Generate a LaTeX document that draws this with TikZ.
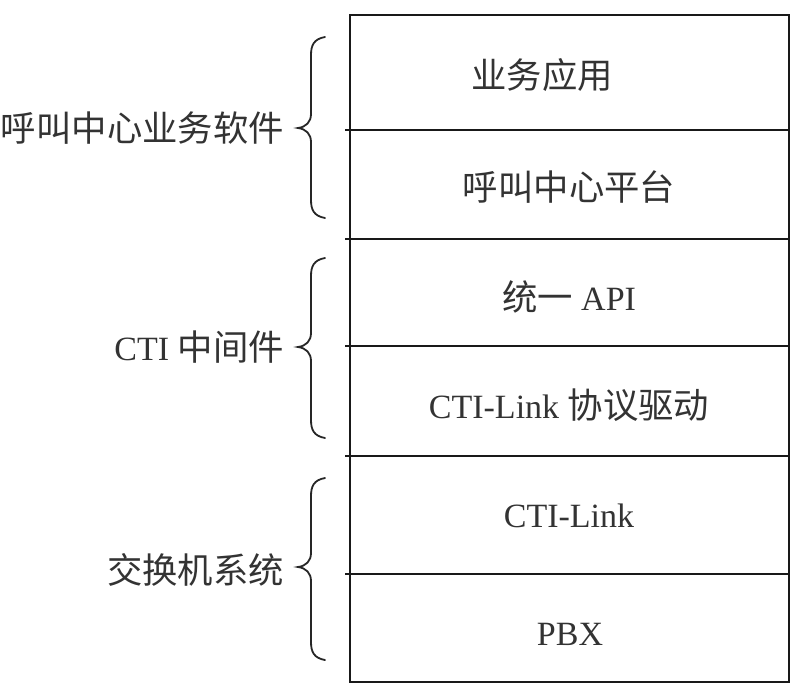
\documentclass[tikz,border=0pt]{standalone}
\usepackage{fontspec}
\setmainfont{Liberation Serif}
\newfontfamily\cjk[Scale=1.04]{Noto Sans CJK SC}
\begin{document}
\begin{tikzpicture}[x=1pt,y=-1pt,
  layer/.style={draw=black!90, line width=2.9pt, minimum width=439pt, anchor=north west, inner sep=0pt, outer sep=0pt},
  divider/.style={draw=black!90, line width=2.9pt},
  txt/.style={font=\fontsize{34}{40}\selectfont, text=black!80, inner sep=0pt},
  brc/.style={draw=black!85, line width=1.8pt, line cap=round}]
\useasboundingbox[fill=white] (0,0) rectangle (797,691);
% layers
\node[layer, minimum height=115pt] (l1) at (350,15) {};
\node[layer, minimum height=109pt] (l2) at (350,130) {};
\node[layer, minimum height=107pt] (l3) at (350,239) {};
\node[layer, minimum height=110pt] (l4) at (350,346) {};
\node[layer, minimum height=118pt] (l5) at (350,456) {};
\node[layer, minimum height=108pt] (l6) at (350,574) {};
% divider overshoots
\foreach \n in {l2,l3,l4,l5,l6}
  \draw[divider] ([xshift=-5pt]\n.north west) -- (\n.north west);
% layer texts
\node[txt] (t1) at (542,75) {\cjk 业务应用};
\node[txt] (t2) at (569,187) {\cjk 呼叫中心平台};
\node[txt] (t3) at (569,297) {{\cjk 统一} API};
\node[txt] (t4) at (569,405) {CTI-Link {\cjk 协议驱动}};
\node[txt] (t5) at (569,516) {CTI-Link};
\node[txt] (t6) at (570,634) {PBX};
% braces
\newcommand\drawbrace[3]{%
  \draw[brc] (325,#1) .. controls (314,#1+2) and (311,#1+8) .. (311,#1+18)
    -- (311,#3-14) .. controls (311,#3-6) and (306,#3-1) .. (298,#3)
    .. controls (306,#3+1) and (311,#3+6) .. (311,#3+14)
    -- (311,#2-18) .. controls (311,#2-8) and (314,#2-2) .. (325,#2);}
\drawbrace{37}{218}{128}
\drawbrace{258}{438}{347}
\drawbrace{478}{660}{567}
% group labels
\node[txt, anchor=east] (g1) at (284,128) {\cjk 呼叫中心业务软件};
\node[txt, anchor=east] (g2) at (284,347) {CTI {\cjk 中间件}};
\node[txt, anchor=east] (g3) at (284,570) {\cjk 交换机系统};
\end{tikzpicture}
\end{document}
